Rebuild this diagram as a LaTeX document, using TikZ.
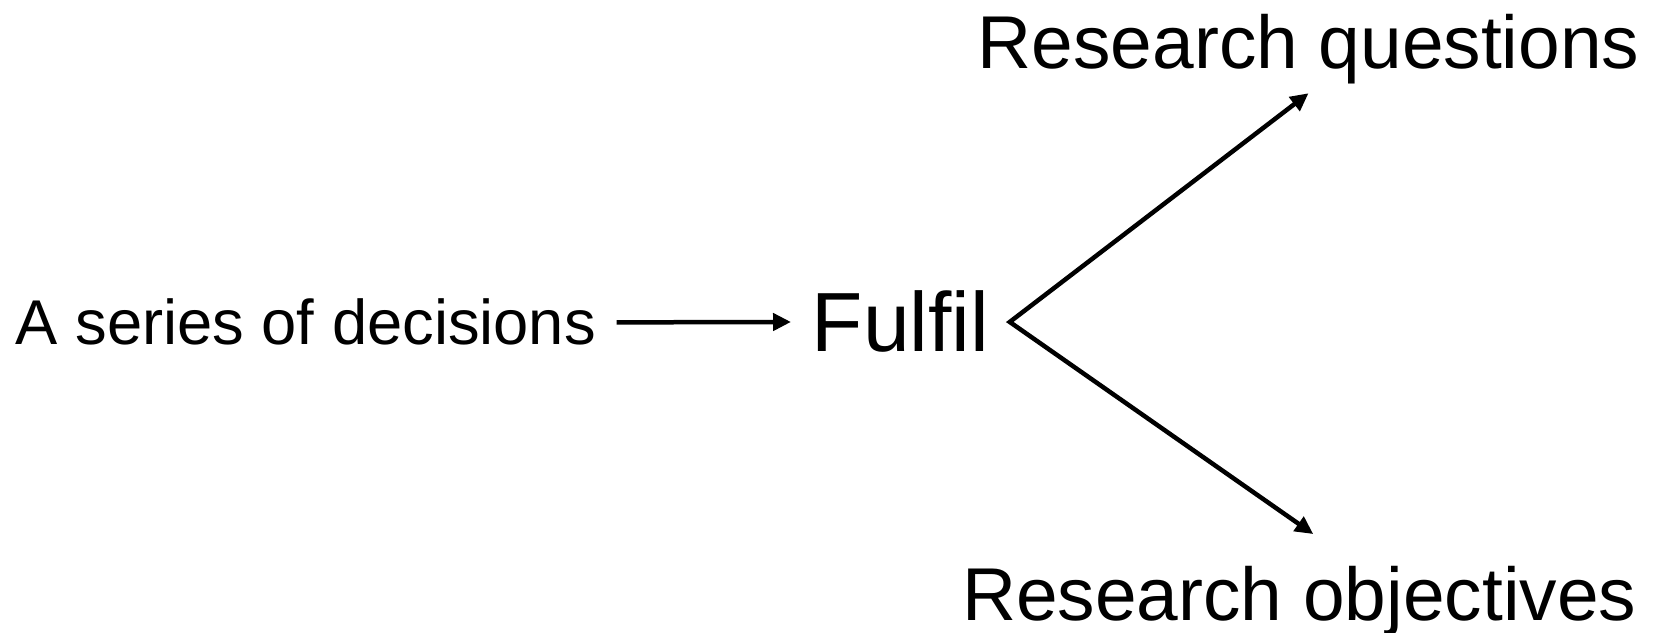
\documentclass[tikz,border=0pt]{standalone}
\usepackage{fontspec}
\setmainfont{Liberation Sans}
\usetikzlibrary{arrows.meta}

\begin{document}
\begin{tikzpicture}[>={Triangle[length=0.18cm, width=0.17cm]},
  label/.style={inner xsep=0.2cm, inner ysep=0.08cm, anchor=base west},
  arr/.style={line width=0.045cm}]

  \useasboundingbox (0,0) rectangle (16.58,-6.33);

  % Nodes
  \node[label, font=\fontsize{18}{20}\selectfont] (series) at (-0.05,-3.45) {A series of decisions};
  \node[label, font=\fontsize{23.9}{26}\selectfont] (fulfil) at (7.91,-3.52) {Fulfil};
  \node[label, font=\fontsize{21.3}{24}\selectfont] (rq) at (9.57,-0.69) {Research questions};
  \node[label, font=\fontsize{21.3}{24}\selectfont, inner ysep=0.31cm] (ro) at (9.415,-6.20) {Research objectives};

  % Arrows
  \draw[arr, ->] (series.east) -- (fulfil.west);
  \draw[arr, <->] (rq.south) -- (fulfil.east) -- ([xshift=0.14cm]ro.north);

\end{tikzpicture}
\end{document}
